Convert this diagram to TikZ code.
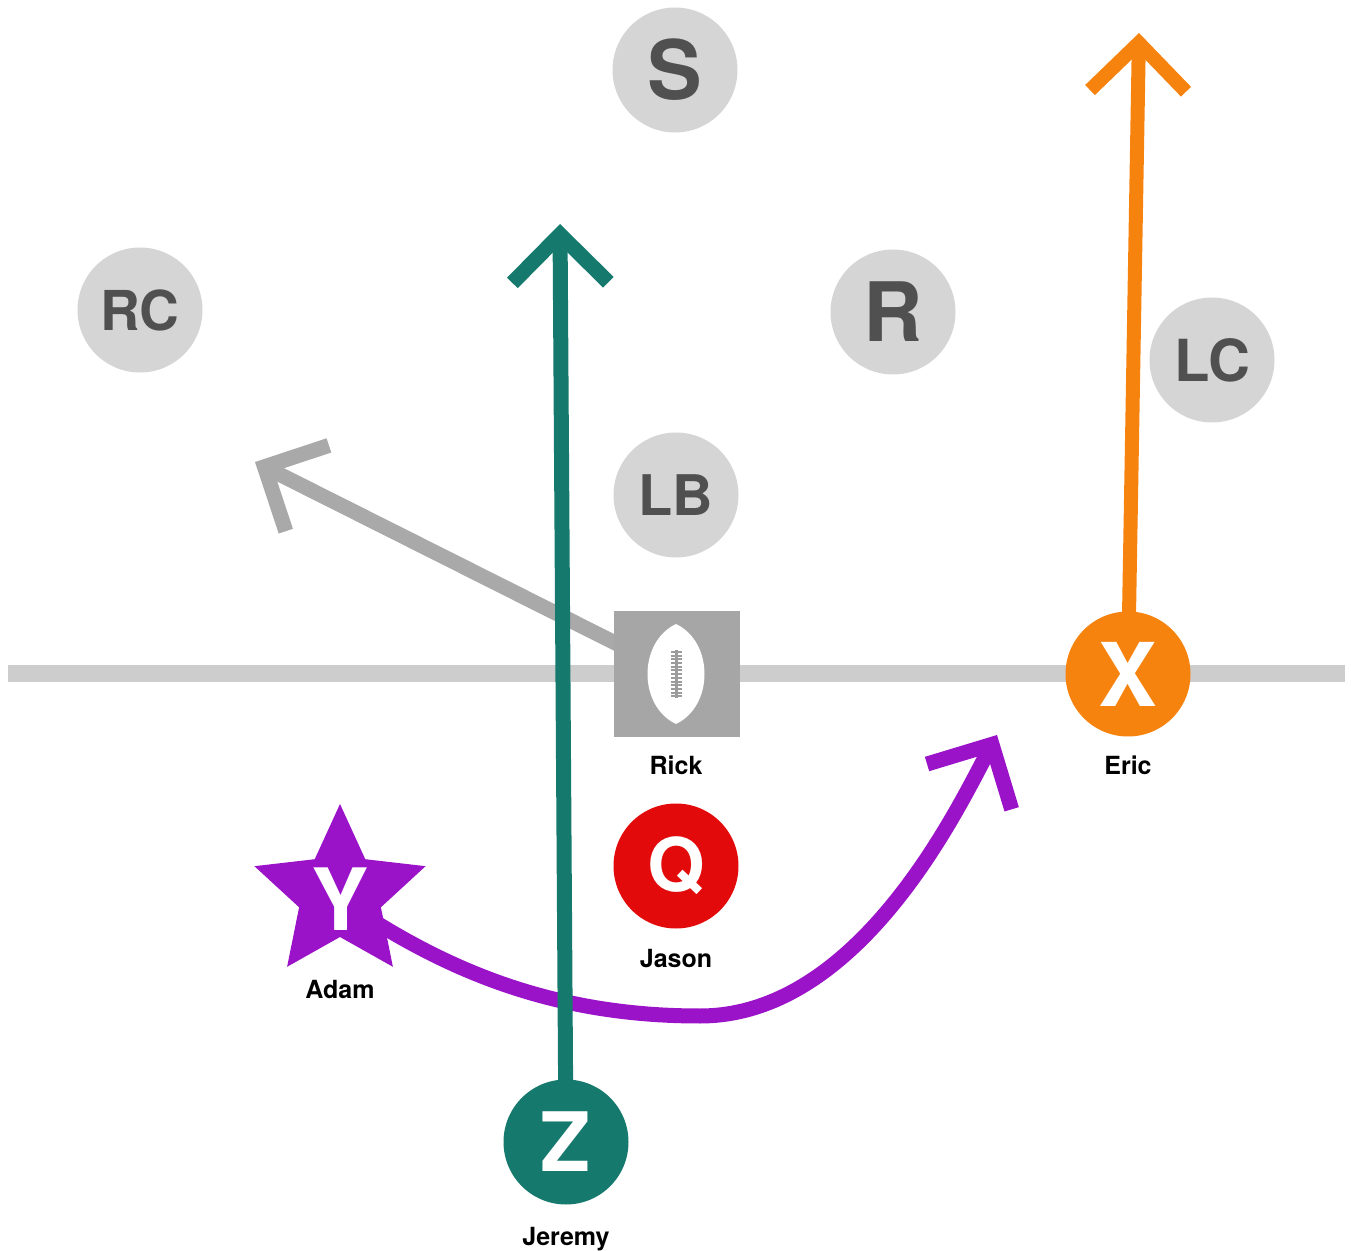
\documentclass[tikz,border=0pt]{standalone}
\usepackage{fontspec}
\setmainfont{TeX Gyre Heros}
\usetikzlibrary{arrows.meta,shapes.geometric,calc}
\pgfdeclarelayer{bottomlayer}
\pgfdeclarelayer{bg}
\pgfsetlayers{bottomlayer,bg,main}
\definecolor{defgray}{HTML}{D5D5D5}
\definecolor{deftext}{HTML}{505050}
\definecolor{tealtwo}{HTML}{16796D}
\definecolor{orangetwo}{HTML}{F7830F}
\definecolor{redtwo}{HTML}{E20A0A}
\definecolor{purpletwo}{HTML}{9B13C8}
\definecolor{arrowgray}{HTML}{A9A9A9}
\definecolor{sqgray}{HTML}{A6A6A6}
\definecolor{lacegray}{HTML}{9C9C9C}
\definecolor{losgray}{HTML}{CDCDCD}
\begin{document}
\begin{tikzpicture}[x=0.5pt,y=-0.5pt,
  defcirc/.style={circle,fill=defgray,minimum size=62.5pt,inner sep=0pt,text=deftext},
  offcirc/.style={circle,minimum size=62.5pt,inner sep=0pt,text=white},
  playername/.style={font=\bfseries\fontsize{12.5pt}{14pt}\selectfont,anchor=base,inner sep=0pt,text=black},
  bigfont/.style={font=\bfseries\fontsize{#1}{#1}\selectfont},
  route/.style={line width=7.5pt,-{Straight Barb[length=24pt,width=48pt]}},
]
\useasboundingbox (0,0) rectangle (1351,1251);

% defenders
\node[defcirc,bigfont=41pt] (S) at (675,70) {S};
\node[defcirc,bigfont=27.5pt] (RC) at (140,310) {RC};
\node[defcirc,bigfont=41pt] (R) at (893,312) {R};
\node[defcirc,bigfont=29pt] (LC) at (1212,360) {LC};
\node[defcirc,bigfont=28pt] (LB) at (676,495) {LB};

% center (Rick)
\node[rectangle,fill=sqgray,minimum size=63pt,inner sep=0pt] (Rick) at (677,674) {};
\fill[white] (676,624) .. controls (638,642) and (638,706) .. (676,724)
             .. controls (714,706) and (714,642) .. cycle;
\draw[lacegray,line width=1.5pt] (676,650) -- (676,698);
\foreach \yy in {652,655.7,...,697} \draw[lacegray,line width=1pt] (670.5,\yy) -- (681.5,\yy);
\node[playername] (RickL) at (676,775) {Rick};

% offense
\node[offcirc,fill=redtwo,bigfont=37pt] (Q) at (676,866) {Q};
\node[playername] (JasonL) at (676,967) {Jason};
\node[offcirc,fill=orangetwo,bigfont=44pt] (X) at (1128,674) {X};
\node[playername] (EricL) at (1128,775) {Eric};
\node[offcirc,fill=tealtwo,bigfont=41pt] (Z) at (566,1142) {Z};
\node[playername] (JeremyL) at (566,1245) {Jeremy};
% star for Y
\coordinate (starc) at (340,894);
\fill[purpletwo] ($(starc)+(-90:90)$) -- ($(starc)+(-54:43)$)
  -- ($(starc)+(-18:90)$) -- ($(starc)+(18:43)$)
  -- ($(starc)+(54:90)$) -- ($(starc)+(90:43)$)
  -- ($(starc)+(126:90)$) -- ($(starc)+(162:43)$)
  -- ($(starc)+(198:90)$) -- ($(starc)+(234:43)$) -- cycle;
\node[text=white,bigfont=43pt,inner sep=0pt] (Y) at (340,899) {Y};
\node[playername] (AdamL) at (340,998) {Adam};

% arrow tips
\coordinate (tealtip) at (560,224);
\coordinate (orangetip) at (1139,33);
\coordinate (graytip) at (255,462);
\coordinate (purpletip) at (997,735);
\coordinate (losL) at (8,674);
\coordinate (losR) at (1345,674);

\begin{pgfonlayer}{bottomlayer}
\draw[losgray,line width=8.5pt] (losL) -- (losR);
\end{pgfonlayer}
\begin{pgfonlayer}{bg}
\draw[route,purpletwo] (Y.center) .. controls (450,975) and (560,1016) .. (700,1016)
      .. controls (860,1016) and (959,806) .. (purpletip);
\draw[route,arrowgray] (Rick.center) -- (graytip);
\draw[route,tealtwo] (Z.center) -- (tealtip);
\draw[route,orangetwo,line width=7pt] (X.center) -- (orangetip);
\end{pgfonlayer}
\end{tikzpicture}
\end{document}
